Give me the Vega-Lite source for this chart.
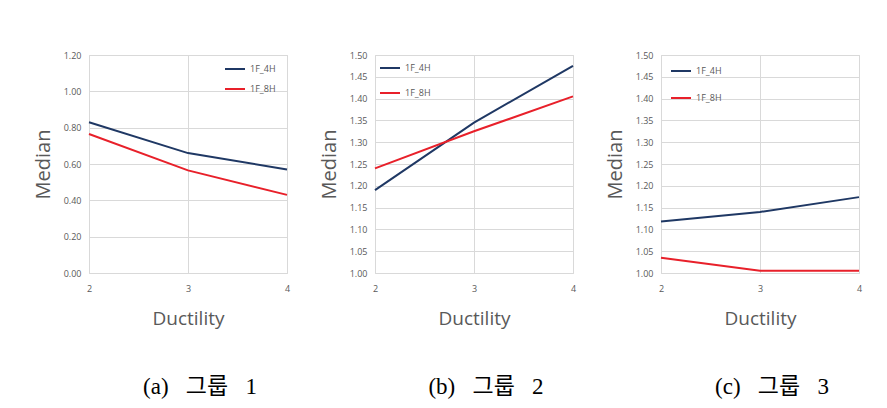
{
  "$schema": "https://vega.github.io/schema/vega-lite/v6.json",
  "padding": {"left": 32, "top": 50, "right": 5, "bottom": 5},
  "background": "white",
  "spacing": 26,
  "datasets": {
    "g1": [
      {"Ductility": 2, "Median": 0.83, "series": "1F_4H"},
      {"Ductility": 3, "Median": 0.66, "series": "1F_4H"},
      {"Ductility": 4, "Median": 0.57, "series": "1F_4H"},
      {"Ductility": 2, "Median": 0.765, "series": "1F_8H"},
      {"Ductility": 3, "Median": 0.565, "series": "1F_8H"},
      {"Ductility": 4, "Median": 0.43, "series": "1F_8H"}
    ],
    "g2": [
      {"Ductility": 2, "Median": 1.19, "series": "1F_4H"},
      {"Ductility": 3, "Median": 1.345, "series": "1F_4H"},
      {"Ductility": 4, "Median": 1.475, "series": "1F_4H"},
      {"Ductility": 2, "Median": 1.24, "series": "1F_8H"},
      {"Ductility": 3, "Median": 1.325, "series": "1F_8H"},
      {"Ductility": 4, "Median": 1.405, "series": "1F_8H"}
    ],
    "g3": [
      {"Ductility": 2, "Median": 1.118, "series": "1F_4H"},
      {"Ductility": 3, "Median": 1.14, "series": "1F_4H"},
      {"Ductility": 4, "Median": 1.174, "series": "1F_4H"},
      {"Ductility": 2, "Median": 1.035, "series": "1F_8H"},
      {"Ductility": 3, "Median": 1.005, "series": "1F_8H"},
      {"Ductility": 4, "Median": 1.005, "series": "1F_8H"}
    ]
  },
  "config": {
    "font": "Open Sans",
    "view": {"stroke": "#d9d9d9", "strokeWidth": 1},
    "axis": {
      "domain": false,
      "ticks": false,
      "grid": true,
      "gridColor": "#d9d9d9",
      "gridWidth": 1,
      "labelFontSize": 9,
      "labelColor": "#595959",
      "labelFont": "Open Sans",
      "labelOverlap": false,
      "titleFontWeight": "normal",
      "titleColor": "#595959",
      "titleFont": "Open Sans"
    },
    "axisY": {"labelPadding": 8, "titlePadding": 10, "titleFontSize": 20},
    "axisX": {"labelPadding": 11, "titlePadding": 16, "titleFontSize": 19, "labelFlush": false},
    "legend": {
      "symbolType": "stroke",
      "symbolSize": 400,
      "symbolStrokeWidth": 2,
      "labelFontSize": 9,
      "labelColor": "#595959",
      "labelFont": "Open Sans",
      "title": null
    },
    "title": {
      "orient": "bottom",
      "fontSize": 23,
      "fontWeight": "normal",
      "color": "#000000",
      "font": "Liberation Serif, Noto Sans CJK KR",
      "offset": 48,
      "dx": 12
    }
  },
  "resolve": {"legend": {"color": "independent"}, "scale": {"color": "independent", "y": "independent", "x": "independent"}},
  "hconcat": [
    {
      "width": 198,
      "height": 218,
      "title": "(a)\u00a0\u00a0\u00a0그룹\u00a0\u00a0\u00a01",
      "data": {"name": "g1"},
      "mark": {"type": "line", "strokeWidth": 2},
      "encoding": {
        "x": {"field": "Ductility", "type": "quantitative", "scale": {"domain": [2, 4], "nice": false, "zero": false}, "axis": {"tickCount": 2, "format": "d", "grid": true}},
        "y": {"field": "Median", "type": "quantitative", "scale": {"domain": [0, 1.2], "nice": false}, "axis": {"values": [0, 0.2, 0.4, 0.6, 0.8, 1.0, 1.2], "format": ".2f"}},
        "color": {"field": "series", "type": "nominal", "scale": {"domain": ["1F_4H", "1F_8H"], "range": ["#1f3864", "#e8202a"]},
          "legend": {"orient": "none", "legendX": 135, "legendY": 3, "rowPadding": 4}}
      }
    },
    {
      "width": 198,
      "height": 218,
      "title": "(b)\u00a0\u00a0\u00a0그룹\u00a0\u00a0\u00a02",
      "data": {"name": "g2"},
      "mark": {"type": "line", "strokeWidth": 2},
      "encoding": {
        "x": {"field": "Ductility", "type": "quantitative", "scale": {"domain": [2, 4], "nice": false, "zero": false}, "axis": {"tickCount": 2, "format": "d", "grid": true}},
        "y": {"field": "Median", "type": "quantitative", "scale": {"domain": [1.0, 1.5], "nice": false, "zero": false}, "axis": {"values": [1.0, 1.05, 1.1, 1.15, 1.2, 1.25, 1.3, 1.35, 1.4, 1.45, 1.5], "format": ".2f"}},
        "color": {"field": "series", "type": "nominal", "scale": {"domain": ["1F_4H", "1F_8H"], "range": ["#1f3864", "#e8202a"]},
          "legend": {"orient": "none", "legendX": 4, "legendY": 2, "rowPadding": 9}}
      }
    },
    {
      "width": 198,
      "height": 218,
      "title": "(c)\u00a0\u00a0\u00a0그룹\u00a0\u00a0\u00a03",
      "data": {"name": "g3"},
      "mark": {"type": "line", "strokeWidth": 2},
      "encoding": {
        "x": {"field": "Ductility", "type": "quantitative", "scale": {"domain": [2, 4], "nice": false, "zero": false}, "axis": {"tickCount": 2, "format": "d", "grid": true}},
        "y": {"field": "Median", "type": "quantitative", "scale": {"domain": [1.0, 1.5], "nice": false, "zero": false}, "axis": {"values": [1.0, 1.05, 1.1, 1.15, 1.2, 1.25, 1.3, 1.35, 1.4, 1.45, 1.5], "format": ".2f"}},
        "color": {"field": "series", "type": "nominal", "scale": {"domain": ["1F_4H", "1F_8H"], "range": ["#1f3864", "#e8202a"]},
          "legend": {"orient": "none", "legendX": 9, "legendY": 5, "rowPadding": 11}}
      }
    }
  ]
}
